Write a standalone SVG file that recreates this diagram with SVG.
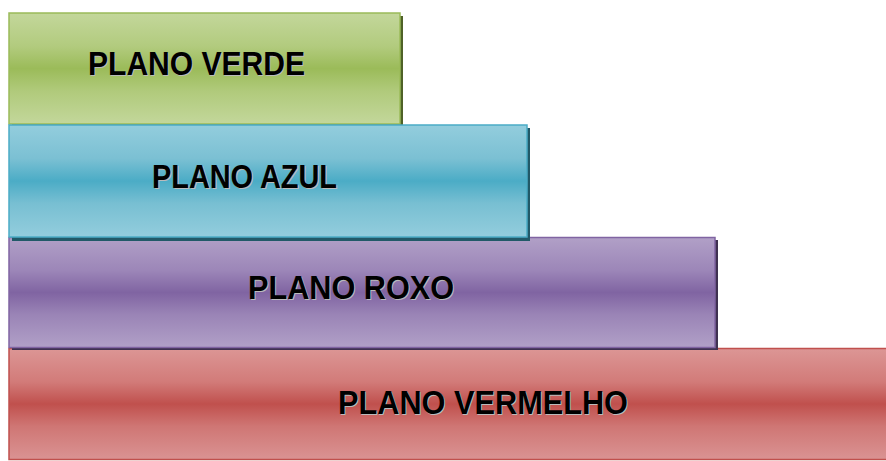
<svg xmlns="http://www.w3.org/2000/svg" width="886" height="461" viewBox="0 0 886 461">
<defs>
<linearGradient id="gG" x1="0" y1="0" x2="0" y2="1">
<stop offset="0" stop-color="#c3d79b"/><stop offset="0.3" stop-color="#b2cb7e"/><stop offset="0.5" stop-color="#9bbb59"/><stop offset="0.7" stop-color="#b0ca7b"/><stop offset="1" stop-color="#c3d79b"/>
</linearGradient>
<linearGradient id="gB" x1="0" y1="0" x2="0" y2="1">
<stop offset="0" stop-color="#93cddd"/><stop offset="0.3" stop-color="#7bc0d3"/><stop offset="0.5" stop-color="#4bacc6"/><stop offset="0.7" stop-color="#78bfd2"/><stop offset="1" stop-color="#93cddd"/>
</linearGradient>
<linearGradient id="gP" x1="0" y1="0" x2="0" y2="1">
<stop offset="0" stop-color="#b1a0c7"/><stop offset="0.3" stop-color="#9c86b8"/><stop offset="0.5" stop-color="#8064a2"/><stop offset="0.7" stop-color="#9a84b6"/><stop offset="1" stop-color="#b1a0c7"/>
</linearGradient>
<linearGradient id="gR" x1="0" y1="0" x2="0" y2="1">
<stop offset="0" stop-color="#dc9695"/><stop offset="0.3" stop-color="#d27b79"/><stop offset="0.5" stop-color="#c0504d"/><stop offset="0.7" stop-color="#cf7674"/><stop offset="1" stop-color="#da9393"/>
</linearGradient>
</defs>
<style>
.lbl{font-family:"Liberation Sans",Arial,sans-serif;font-weight:bold;font-size:33px;text-anchor:middle;fill:#000}
.sh{fill:#bbbbbb}
</style>
<rect width="886" height="461" fill="#ffffff"/>
<g id="red">
<rect x="9" y="348.5" width="880" height="111" fill="url(#gR)" stroke="#c0504d" stroke-width="1.5"/>
<text class="lbl sh" x="484" y="415" textLength="290" lengthAdjust="spacingAndGlyphs">PLANO VERMELHO</text>
<text class="lbl" x="483" y="414" textLength="290" lengthAdjust="spacingAndGlyphs">PLANO VERMELHO</text>
</g>
<g id="purple">
<rect x="12" y="240" width="706" height="110" fill="#3f3151"/>
<rect x="9" y="237.5" width="706" height="110" fill="url(#gP)" stroke="#8064a2" stroke-width="1.5"/>
<text class="lbl sh" x="352" y="300" textLength="206" lengthAdjust="spacingAndGlyphs">PLANO ROXO</text>
<text class="lbl" x="351" y="299" textLength="206" lengthAdjust="spacingAndGlyphs">PLANO ROXO</text>
</g>
<g id="green">
<rect x="12" y="16" width="391" height="110" fill="#4f6228"/>
<rect x="9" y="13" width="391" height="111" fill="url(#gG)" stroke="#9bbb59" stroke-width="1.5"/>
<text class="lbl sh" x="197.5" y="76" textLength="217" lengthAdjust="spacingAndGlyphs">PLANO VERDE</text>
<text class="lbl" x="196.5" y="75" textLength="217" lengthAdjust="spacingAndGlyphs">PLANO VERDE</text>
</g>
<g id="blue">
<rect x="12" y="128" width="518" height="113" fill="#215968"/>
<rect x="9" y="125" width="518" height="112" fill="url(#gB)" stroke="#4bacc6" stroke-width="1.5"/>
<text class="lbl sh" x="245.5" y="189" textLength="185" lengthAdjust="spacingAndGlyphs">PLANO AZUL</text>
<text class="lbl" x="244.5" y="188" textLength="185" lengthAdjust="spacingAndGlyphs">PLANO AZUL</text>
</g>
<g id="connectors"/>
</svg>
